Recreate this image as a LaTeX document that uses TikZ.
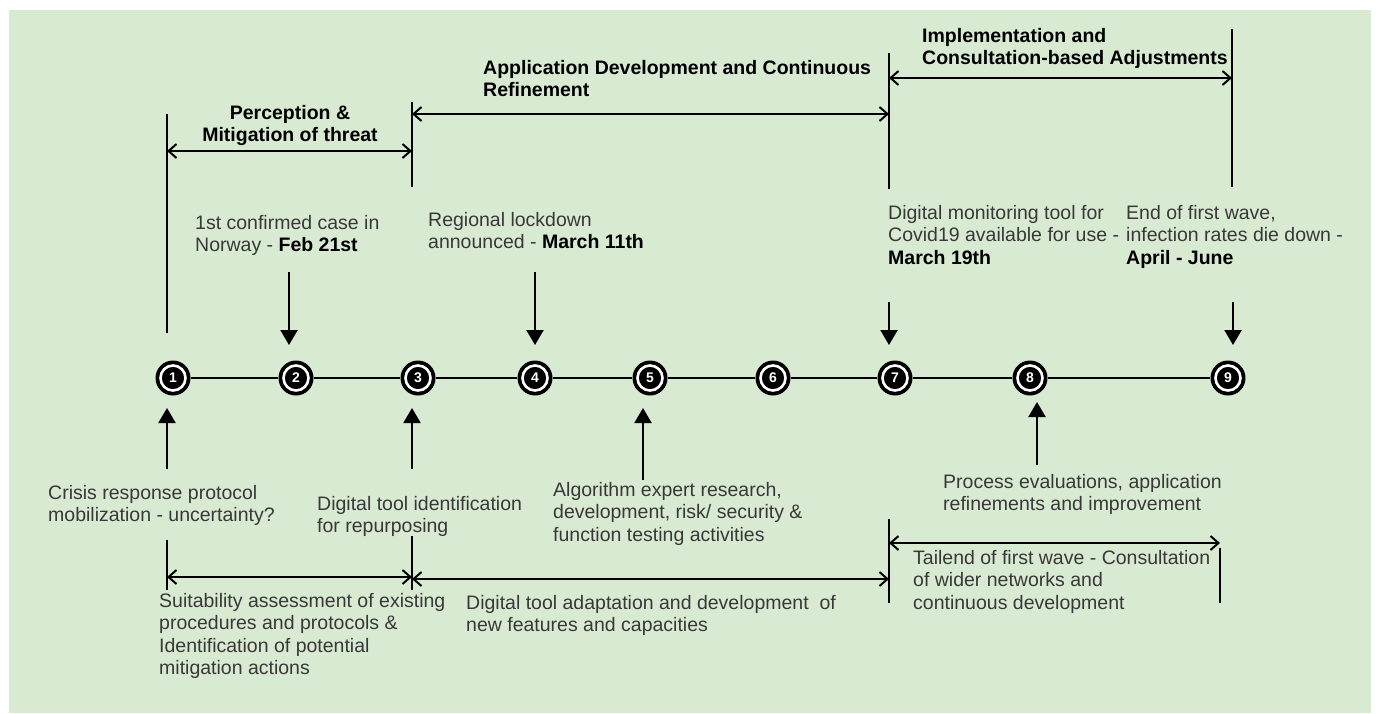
\documentclass[tikz,border=0pt]{standalone}
\usepackage{fontspec}
\setmainfont{Liberation Sans}
\usetikzlibrary{arrows.meta}
\definecolor{bg}{HTML}{D9EAD3}
\definecolor{txt}{HTML}{383838}
\begin{document}
\begin{tikzpicture}[x=1pt,y=-1pt,
  lbl/.style={anchor=north west, inner sep=0pt, align=left, text=txt,
    font=\fontsize{19.5}{22.5}\selectfont},
  head/.style={anchor=north west, inner sep=0pt, align=left, text=black,
    font=\bfseries\fontsize{19.5}{22}\selectfont},
  bar/.style={line width=2.2pt},
  span/.style={line width=2.2pt,
    {Straight Barb[length=8pt,width=14pt,line width=2pt]}-{Straight Barb[length=8pt,width=14pt,line width=2pt]}},
  pointer/.style={line width=2.2pt, -{Triangle[length=15pt,width=17pt]}},
  stage/.style={circle, fill=black, minimum size=35pt, inner sep=0pt, text=white,
    font=\bfseries\fontsize{14}{14}\selectfont,
    path picture={\draw[white, line width=2.6pt]
      (path picture bounding box.center) circle[radius=12.5pt];}}]

% page and panel
\useasboundingbox (0,0) rectangle (1376,713);
\fill[white] (0,0) rectangle (1376,713);
\fill[bg] (9,10) rectangle (1371,713);

% timeline stages
\foreach \i/\x in {1/173,2/296,3/418,4/535,5/650,6/773,7/895,8/1030,9/1228}
  \node[stage] (s\i) at (\x,378) {\i};
\foreach \a/\b in {1/2,2/3,3/4,4/5,5/6,6/7,7/8,8/9}
  \draw[line width=2.4pt] (s\a) -- (s\b);

% phase markers above the timeline
\coordinate (pa1) at (167,114);  \coordinate (pa2) at (167,333);
\coordinate (pb1) at (412,102);  \coordinate (pb2) at (412,187);
\coordinate (pc1) at (889,53);   \coordinate (pc2) at (889,189);
\coordinate (pd1) at (1232,29);  \coordinate (pd2) at (1232,187);
\draw[bar] (pa1) -- (pa2);
\draw[bar] (pb1) -- (pb2);
\draw[bar] (pc1) -- (pc2);
\draw[bar] (pd1) -- (pd2);
\coordinate (ha1) at (167,151);  \coordinate (ha2) at (412,151);
\coordinate (hb1) at (412,114);  \coordinate (hb2) at (889,114);
\coordinate (hc1) at (889,78);   \coordinate (hc2) at (1232,78);
\draw[span] (ha1) -- (ha2);
\draw[span] (hb1) -- (hb2);
\draw[span] (hc1) -- (hc2);

\node[head, anchor=north, align=center] (ph1) at (290,105) {Perception \&\\Mitigation of threat};
\node[head] (ph2) at (483,60) {Application Development and Continuous\\Refinement};
\node[head] (ph3) at (922,28) {Implementation and\\Consultation-based Adjustments};

% events above the timeline
\node[lbl] (e2) at (195,215) {1st confirmed case in\\Norway - \textbf{\color{black}Feb 21st}};
\node[lbl] (e4) at (428,212) {Regional lockdown\\announced - \textbf{\color{black}March 11th}};
\node[lbl] (e7) at (888,205) {Digital monitoring tool for\\Covid19 available for use -\\\textbf{\color{black}March 19th}};
\node[lbl] (e9) at (1126,205) {End of first wave,\\infection rates die down -\\\textbf{\color{black}April - June}};

\coordinate (d2) at (289,272);   \coordinate (d2e) at (289,345);
\coordinate (d4) at (535,272);   \coordinate (d4e) at (535,345);
\coordinate (d7) at (889,302);   \coordinate (d7e) at (889,345);
\coordinate (d9) at (1233,302);  \coordinate (d9e) at (1233,345);
\draw[pointer] (d2) -- (d2e);
\draw[pointer] (d4) -- (d4e);
\draw[pointer] (d7) -- (d7e);
\draw[pointer] (d9) -- (d9e);

% activities below the timeline
\coordinate (u1) at (167,469);   \coordinate (u1e) at (167,408);
\coordinate (u3) at (412,469);   \coordinate (u3e) at (412,408);
\coordinate (u5) at (643,480);   \coordinate (u5e) at (643,408);
\coordinate (u8) at (1037,465);  \coordinate (u8e) at (1037,402);
\draw[pointer] (u1) -- (u1e);
\draw[pointer] (u3) -- (u3e);
\draw[pointer] (u5) -- (u5e);
\draw[pointer] (u8) -- (u8e);

\node[lbl] (a1) at (48,485) {Crisis response protocol\\mobilization - uncertainty?};
\node[lbl] (a3) at (317,496) {Digital tool identification\\for repurposing};
\node[lbl] (a5) at (553,482) {Algorithm expert research,\\development, risk/ security \&\\function testing activities};
\node[lbl] (a8) at (943,474) {Process evaluations, application\\refinements and improvement};

% phase ranges below the timeline
\coordinate (qa1) at (167,540);  \coordinate (qa2) at (167,590);
\coordinate (qb1) at (412,536);  \coordinate (qb2) at (412,590);
\coordinate (qc1) at (889,519);  \coordinate (qc2) at (889,603);
\coordinate (qd1) at (1220,548); \coordinate (qd2) at (1220,603);
\draw[bar] (qa1) -- (qa2);
\draw[bar] (qb1) -- (qb2);
\draw[bar] (qc1) -- (qc2);
\draw[bar] (qd1) -- (qd2);
\coordinate (ra1) at (167,577);  \coordinate (ra2) at (412,577);
\coordinate (rb1) at (412,579);  \coordinate (rb2) at (889,579);
\coordinate (rc1) at (889,543);  \coordinate (rc2) at (1220,543);
\draw[span] (ra1) -- (ra2);
\draw[span] (rb1) -- (rb2);
\draw[span] (rc1) -- (rc2);

\node[lbl] (b1) at (159,593) {Suitability assessment of existing\\procedures and protocols \&\\Identification of potential\\mitigation actions};
\node[lbl] (b2) at (466,595) {Digital tool adaptation and development\ \ of\\new features and capacities};
\node[lbl] (b3) at (913,550) {Tailend of first wave - Consultation\\of wider networks and\\continuous development};
\end{tikzpicture}
\end{document}
